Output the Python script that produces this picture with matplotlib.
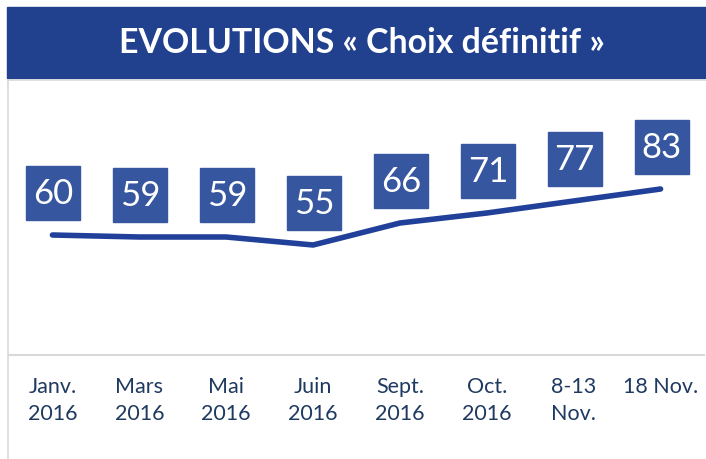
import matplotlib.pyplot as plt
from matplotlib.patches import Rectangle

plt.rcParams['font.family'] = ['Lato', 'DejaVu Sans']

categories = ["Janv.\n2016", "Mars\n2016", "Mai\n2016", "Juin\n2016",
              "Sept.\n2016", "Oct.\n2016", "8-13\nNov.", "18 Nov.\n"]
values = [60, 59, 59, 55, 66, 71, 77, 83]
title = "EVOLUTIONS « Choix définitif »"

W, H = 706, 459
banner_col = "#21418E"
box_col = "#3656A0"
line_col = "#21409A"
tick_col = "#1F3A60"
grey = "#D9D9D9"

fig = plt.figure(figsize=(W / 100, H / 100), dpi=100)
fig.patch.set_facecolor("white")

# title banner
fig.patches.append(Rectangle((7 / W, 1 - 78 / H), 1 - 7 / W, 71 / H,
                             transform=fig.transFigure, color=banner_col, zorder=0))
fig.text(362 / W, 1 - 43 / H, title, color="white", fontsize=24.4, fontweight="bold",
         ha="center", va="center")
# frame lines
fig.add_artist(plt.Line2D([8 / W, 1], [1 - 80 / H, 1 - 80 / H], transform=fig.transFigure,
                          color=grey, lw=1.2))
fig.add_artist(plt.Line2D([8 / W, 8 / W], [0, 1 - 80 / H], transform=fig.transFigure,
                          color=grey, lw=1.2))

ax = fig.add_axes([9 / W, 104 / H, 695 / W, 240 / H])
x = list(range(len(values)))
ax.plot(x, values, color=line_col, lw=4, solid_capstyle="round", zorder=2)
ax.set_xlim(-0.5, len(values) - 0.5)
ax.set_ylim(0, 120)
for s in ["top", "right", "left"]:
    ax.spines[s].set_visible(False)
ax.spines["bottom"].set_color(grey)
ax.spines["bottom"].set_linewidth(1.5)
ax.set_yticks([])
ax.set_xticks(x)
ax.set_xticklabels(categories, color=tick_col, fontsize=15.5, linespacing=1.45)
ax.tick_params(axis="x", length=0, pad=16)
ax.patch.set_alpha(0)

# value boxes above each point
fig.canvas.draw()
for xi, v in zip(x, values):
    px, py = ax.transData.transform((xi, v))
    cx, cy = px + 1, py + 42
    fig.patches.append(Rectangle(((cx - 27) / W, (cy - 27) / H), 54 / W, 54 / H,
                                 transform=fig.transFigure, color=box_col, zorder=3))
    fig.text(cx / W, (cy - 1) / H, str(v), color="white", fontsize=25,
             ha="center", va="center", zorder=4)

fig.savefig("out.png", dpi=100)
